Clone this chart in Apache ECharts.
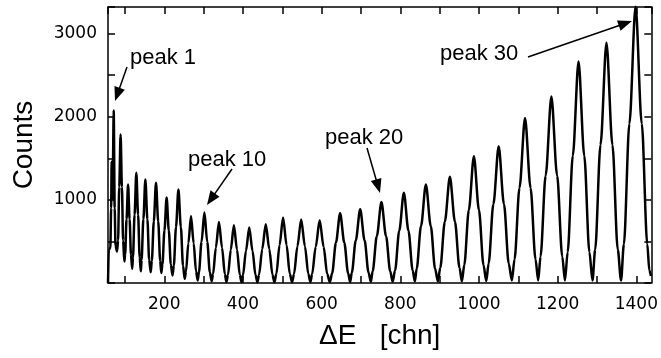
<!DOCTYPE html>
<html>
<head>
<meta charset="utf-8">
<script src="https://cdn.jsdelivr.net/npm/echarts@6/dist/echarts.min.js"></script>
<style>
html,body{margin:0;padding:0;background:#fff;}
#chart{width:661px;height:358px;}
</style>
</head>
<body>
<div id="chart"></div>
<script>
// Spectrum: channel (ΔE [chn]) and counts
const spectrumChannel = [
  57, 58.5, 59, 63, 65, 66.3, 67.5, 69, 71.5, 74, 76, 80,
  82.6, 85.6, 89, 92.4, 95.4, 98.5,
  100.6, 104.1, 108, 111.9, 115.4, 118.5,
  120.5, 124.5, 129, 133.5, 137.5, 140.5,
  142.4, 146.9, 152, 157.1, 161.6, 165.5,
  168.4, 173.4, 179, 184.6, 189.6, 192.5,
  195.4, 200.4, 206, 211.6, 216.6, 221,
  224.3, 229.8, 236, 242.2, 247.7, 252,
  255.25, 261.25, 268, 274.75, 280.75, 285,
  288.2, 294.7, 302, 309.3, 315.8, 320.5,
  324.1, 331.1, 339, 346.9, 353.9, 358,
  362.1, 369.1, 377, 384.9, 391.9, 396.5,
  400.1, 407.6, 416, 424.4, 431.9, 437,
  441, 449, 458, 467, 475, 480,
  485, 493, 502, 511, 519, 525,
  529.9, 538.4, 548, 557.6, 566.1, 571.5,
  575.9, 584.9, 595, 605.1, 614.1, 621,
  626.8, 636.3, 647, 657.7, 667.2, 672.5,
  676.75, 686.75, 698, 709.25, 719.25, 725,
  729.7, 740.2, 752, 763.8, 774.3, 780.5,
  786.7, 797.2, 809, 820.8, 831.3, 837,
  841.6, 852.6, 865, 877.4, 888.4, 895.5,
  901.6, 913.1, 926, 938.9, 950.4, 956.5,
  962.6, 974.1, 987, 999.9, 1011.4, 1018.5,
  1024.5, 1036.5, 1050, 1063.5, 1075.5, 1083.5,
  1090.4, 1102.9, 1117, 1131.1, 1143.6, 1150.5,
  1156.4, 1169.4, 1184, 1198.6, 1211.6, 1218.5,
  1225.4, 1238.4, 1253, 1267.6, 1280.6, 1288.5,
  1295.3, 1308.8, 1324, 1339.2, 1352.7, 1361,
  1368.25, 1382.25, 1398, 1413.75, 1427.75, 1433, 1437
];
const spectrumCounts = [
  0, 0, 400, 420, 900, 1460, 1000, 1200, 2076, 900, 450, 380,
  510, 1155, 1785, 1155, 510, 260,
  341, 768, 1186, 768, 341, 170,
  307, 822, 1326, 822, 307, 140,
  279, 768, 1246, 768, 279, 130,
  265, 741, 1206, 741, 265, 120,
  225, 630, 1027, 630, 225, 90,
  207, 672, 1126, 672, 207, 50,
  140, 477, 806, 477, 140, 30,
  132, 494, 847, 494, 132, 20,
  108, 425, 734, 425, 108, 12,
  100, 401, 695, 401, 100, 10,
  95, 385, 667, 385, 95, 10,
  100, 407, 707, 407, 100, 10,
  111, 453, 787, 453, 111, 10,
  108, 440, 765, 440, 108, 10,
  107, 435, 755, 435, 107, 10,
  120, 484, 840, 484, 120, 12,
  126, 511, 887, 511, 126, 15,
  140, 562, 974, 562, 140, 15,
  154, 626, 1087, 626, 154, 20,
  172, 685, 1186, 685, 172, 20,
  184, 737, 1278, 737, 184, 20,
  216, 878, 1525, 878, 216, 25,
  236, 948, 1645, 948, 236, 30,
  285, 1144, 1985, 1144, 285, 30,
  318, 1292, 2244, 1292, 318, 30,
  372, 1531, 2663, 1531, 372, 30,
  402, 1661, 2891, 1661, 402, 30,
  467, 1915, 3330, 1915, 467, 150, 85
];

// Axis ranges and labels
const xRange = [57, 1438];
const yRange = [0, 3320];
const xTitle = 'ΔE   [chn]';
const yTitle = 'Counts';

// Annotation texts
const annotationTexts = ['peak 1', 'peak 10', 'peak 20', 'peak 30'];

const seriesData = spectrumChannel.map((c, i) => [c, spectrumCounts[i]]);

const chart = echarts.init(document.getElementById('chart'), null, {renderer: 'canvas'});

const tickFont = {fontFamily: 'DejaVu Sans', fontSize: 17, color: '#000'};
const titleFont = {fontFamily: 'Liberation Sans', fontSize: 28, color: '#000'};
const axisLine = {show: true, onZero: false, lineStyle: {color: '#000', width: 1.5}};
const axisTick = {show: true, inside: true, length: 7, lineStyle: {color: '#000', width: 1.5}};

function arrowEls(x1, y1, x2, y2, headLen, headW) {
  const dx = x2 - x1, dy = y2 - y1, L = Math.hypot(dx, dy);
  const ux = dx / L, uy = dy / L;
  const bx = x2 - ux * headLen, by = y2 - uy * headLen;
  const px = -uy, py = ux;
  return [
    {type: 'line', silent: true, shape: {x1: x1, y1: y1, x2: bx + ux * 2, y2: by + uy * 2},
     style: {stroke: '#000', lineWidth: 1.5}},
    {type: 'polygon', silent: true,
     shape: {points: [[x2, y2], [bx + px * headW / 2, by + py * headW / 2], [bx - px * headW / 2, by - py * headW / 2]]},
     style: {fill: '#000'}}
  ];
}

const annFont = '22px "Liberation Sans"';
const labelPos = [[130, 58], [188, 160], [325, 138], [440, 54]];
const arrows = [
  [127, 67, 115, 101],
  [232, 169, 207, 205],
  [367, 148, 380, 193],
  [528, 57, 632, 21]
];
const graphics = [];
annotationTexts.forEach((t, i) => {
  graphics.push({type: 'text', silent: true, x: labelPos[i][0], y: labelPos[i][1],
    style: {text: t, font: annFont, fill: '#000', verticalAlign: 'middle', align: 'left'}});
  const a = arrows[i];
  arrowEls(a[0], a[1], a[2], a[3], 14, 11).forEach(e => graphics.push(e));
});

chart.setOption({
  animation: false,
  backgroundColor: '#fff',
  grid: {left: 108, right: 3, top: 7, bottom: 75},
  xAxis: [
    {type: 'value', position: 'bottom', min: xRange[0], max: xRange[1], splitNumber: 14,
     name: xTitle, nameLocation: 'middle', nameGap: 39, nameTextStyle: titleFont,
     axisLine: axisLine, axisTick: axisTick, splitLine: {show: false},
     axisLabel: Object.assign({margin: 13, showMinLabel: false, showMaxLabel: false,
       formatter: v => (Math.abs(v % 200) < 1e-6 ? String(v) : '')}, tickFont)},
    {type: 'value', position: 'top', min: xRange[0], max: xRange[1], splitNumber: 14,
     axisLine: axisLine, axisTick: axisTick, splitLine: {show: false}, axisLabel: {show: false}}
  ],
  yAxis: [
    {type: 'value', position: 'left', min: yRange[0], max: yRange[1], interval: 500,
     name: yTitle, nameLocation: 'middle', nameGap: 70, nameRotate: 90, nameTextStyle: titleFont,
     axisLine: axisLine, axisTick: axisTick, splitLine: {show: false},
     axisLabel: Object.assign({margin: 11,
       formatter: v => (v > 0 && v % 1000 === 0 ? String(v) : '')}, tickFont)},
    {type: 'value', position: 'right', min: yRange[0], max: yRange[1], interval: 500,
     axisLine: axisLine, axisTick: axisTick, splitLine: {show: false}, axisLabel: {show: false}}
  ],
  series: [{
    type: 'line', xAxisIndex: 0, yAxisIndex: 0, data: seriesData,
    showSymbol: false, symbol: 'none', clip: true,
    smooth: 0.3, smoothMonotone: 'x',
    lineStyle: {color: '#000', width: 2.5}
  }],
  graphic: graphics
});
</script>
</body>
</html>
